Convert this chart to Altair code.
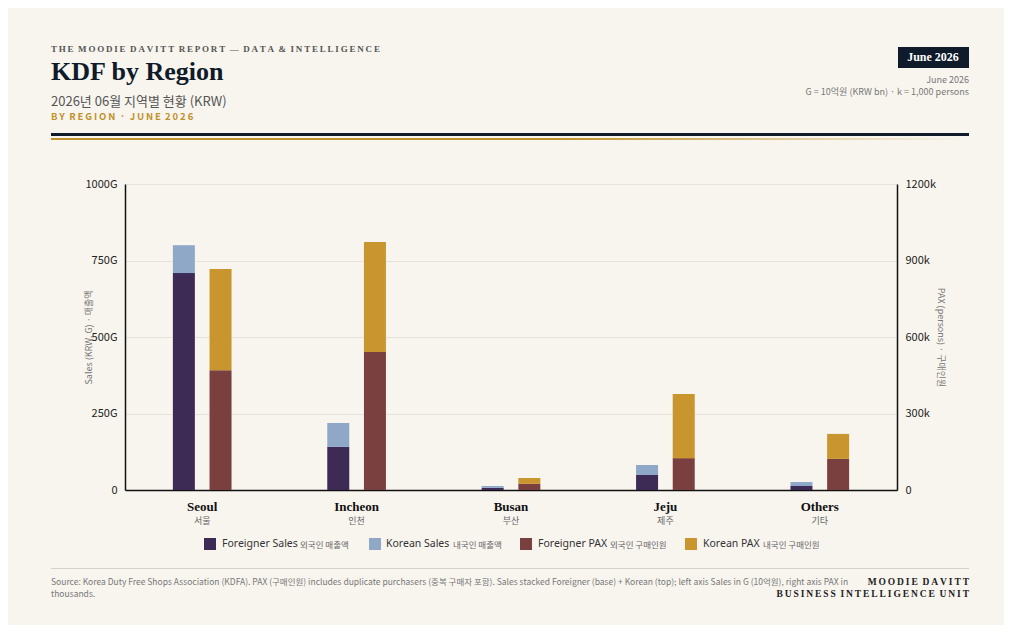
import altair as alt
import pandas as pd

regions = ["Seoul", "Incheon", "Busan", "Jeju", "Others"]
regions_ko = ["서울", "인천", "부산", "제주", "기타"]
foreigner_sales = [709, 141, 7, 49, 13]   # G (10억원)
korean_sales = [91, 78, 6, 33, 13]
foreigner_pax = [470, 541, 24, 125, 122]  # thousands
korean_pax = [397, 432, 23, 251, 98]

segments = ["Foreigner Sales", "Korean Sales", "Foreigner PAX", "Korean PAX"]
segments_ko = ["외국인 매출액", "내국인 매출액", "외국인 구매인원", "내국인 구매인원"]
colors = ["#3d2b56", "#8fa8c8", "#7a3f3f", "#c9952e"]

SERIF = "Liberation Serif"
SANS = "Noto Sans CJK KR"
W, H = 772, 306
OX, OY = 125, 184  # plot origin on the page

rows = []
for i, r in enumerate(regions):
    rows += [
        dict(region=r, kind="Sales", seg="Foreigner Sales", order=0, value=foreigner_sales[i]),
        dict(region=r, kind="Sales", seg="Korean Sales", order=1, value=korean_sales[i]),
        dict(region=r, kind="PAX", seg="Foreigner PAX", order=0, value=foreigner_pax[i]),
        dict(region=r, kind="PAX", seg="Korean PAX", order=1, value=korean_pax[i]),
    ]
df = pd.DataFrame(rows)

x_enc = alt.X("region:N", sort=regions, title=None,
              scale=alt.Scale(paddingInner=0.62, paddingOuter=0.31),
              axis=alt.Axis(labels=False, ticks=False, domainColor="#111", domainWidth=1.5))
xoff = alt.XOffset("kind:N", scale=alt.Scale(domain=["Sales", "PAX"], paddingInner=0.4, paddingOuter=0))
color = alt.Color("seg:N", scale=alt.Scale(domain=segments, range=colors), legend=None)

sales = alt.Chart(df).transform_filter(alt.datum.kind == "Sales").mark_bar().encode(
    x=x_enc, xOffset=xoff, color=color, order=alt.Order("order:Q"),
    y=alt.Y("value:Q", stack="zero", scale=alt.Scale(domain=[0, 1000]),
            title="Sales (KRW, G) · 매출액",
            axis=alt.Axis(values=[0, 250, 500, 750, 1000],
                          labelExpr="datum.value == 0 ? '0' : datum.value + 'G'",
                          domainColor="#111", domainWidth=1.5, ticks=False, labelPadding=8,
                          gridColor="#e8e3da", titleX=-32)),
)
pax = alt.Chart(df).transform_filter(alt.datum.kind == "PAX").mark_bar().encode(
    x=x_enc, xOffset=xoff, color=color, order=alt.Order("order:Q"),
    y=alt.Y("value:Q", stack="zero", scale=alt.Scale(domain=[0, 1200]),
            title="PAX (persons) · 구매인원",
            axis=alt.Axis(orient="right", values=[0, 300, 600, 900, 1200],
                          labelExpr="datum.value == 0 ? '0' : datum.value + 'k'",
                          grid=False, domainColor="#111", domainWidth=1.5,
                          ticks=False, labelPadding=8, titleX=38)),
)

lab = pd.DataFrame({"region": regions, "ko": regions_ko})
xlab_en = alt.Chart(lab).mark_text(font=SERIF, fontWeight="bold", fontSize=13, color="#111").encode(
    x=alt.X("region:N", sort=regions), y=alt.value(H + 17), text="region:N")
xlab_ko = alt.Chart(lab).mark_text(font=SANS, fontSize=9, color="#666").encode(
    x=alt.X("region:N", sort=regions), y=alt.value(H + 31), text="ko:N")


def spaced(s):
    # letter-spaced caps: thin spaces between letters, wider gap between words
    return "\u00a0\u00a0".join("\u2009".join(w) for w in s.split(" "))


def txt(s, px, py, size, color="#333", font=SANS, weight="normal", align="left", baseline="middle"):
    return alt.Chart(pd.DataFrame({"t": [s]})).mark_text(
        font=font, fontSize=size, fontWeight=weight, color=color, align=align, baseline=baseline
    ).encode(x=alt.value(px - OX), y=alt.value(py - OY), text="t:N")


def box(x1, x2, y1, y2, fill):
    return alt.Chart(pd.DataFrame({"a": [0]})).mark_rect(fill=fill).encode(
        x=alt.value(x1 - OX), x2=alt.value(x2 - OX), y=alt.value(y1 - OY), y2=alt.value(y2 - OY))


gold_grad = alt.LinearGradient(gradient="linear", x1=0, x2=1, y1=0, y2=0, stops=[
    alt.GradientStop(color="#c0922b", offset=0), alt.GradientStop(color="#c0922b", offset=0.55),
    alt.GradientStop(color="#f8f5ef", offset=1)])

deco = [
    txt(spaced("THE MOODIE DAVITT REPORT — DATA & INTELLIGENCE"), 51, 49, 9, "#555", SERIF, "bold"),
    txt("KDF by Region", 51, 72, 26, "#0f1b2a", SERIF, "bold"),
    txt("2026년 06월 지역별 현황 (KRW)", 51, 102, 13, "#555"),
    txt(spaced("BY REGION · JUNE 2026"), 51, 117, 9.5, "#c0922b", SANS, "bold"),
    box(51, 969, 133, 136, "#0f1b2a"),
    box(51, 969, 138, 140, gold_grad),
    box(898, 969, 47, 68, "#0f1b2a"),
    txt("June 2026", 933, 57, 12, "white", SERIF, "bold", "center"),
    txt("June 2026", 969, 80, 9, "#777", align="right"),
    txt("G = 10억원 (KRW bn) · k = 1,000 persons", 969, 92, 9, "#777", align="right"),
    box(51, 969, 568, 569, "#d6d1c8"),
    txt("Source: Korea Duty Free Shops Association (KDFA). PAX (구매인원) includes duplicate purchasers (중복 구매자 포함). "
        "Sales stacked Foreigner (base) + Korean (top); left axis Sales in G (10억원), right axis PAX in",
        51, 582, 8.5, "#777"),
    txt("thousands.", 51, 594, 8.5, "#777"),
    txt(spaced("MOODIE DAVITT"), 969, 582, 9.5, "#222", SERIF, "bold", "right"),
    txt(spaced("BUSINESS INTELLIGENCE UNIT"), 969, 594, 9.5, "#222", SERIF, "bold", "right"),
]

sw_x = [204, 369, 520, 685]
en_x = [222, 386, 538, 703]
ko_x = [300, 453, 610, 763]
for i in range(4):
    deco.append(box(sw_x[i], sw_x[i] + 12, 538, 550, colors[i]))
    deco.append(txt(segments[i], en_x[i], 544, 10.5, "#333", "Noto Sans"))
    deco.append(txt(segments_ko[i], ko_x[i], 545, 8.5, "#666"))

chart = alt.layer(sales, pax, xlab_en, xlab_ko, *deco).resolve_scale(
    y="independent"
).properties(
    width=W, height=H,
    autosize=alt.AutoSizeParams(type="none"),
    padding={"left": OX - 8, "top": OY - 8, "right": 1020 - 16 - OX - W, "bottom": 641 - 16 - OY - H},
    background="#f8f5ef",
).configure_view(stroke=None).configure_axis(
    labelFont=SANS, labelFontSize=11, labelColor="#222",
    titleFont=SANS, titleFontSize=9, titleFontWeight="normal", titleColor="#777",
)

chart.save("out.html", embed_options={"renderer": "svg", "actions": False})
